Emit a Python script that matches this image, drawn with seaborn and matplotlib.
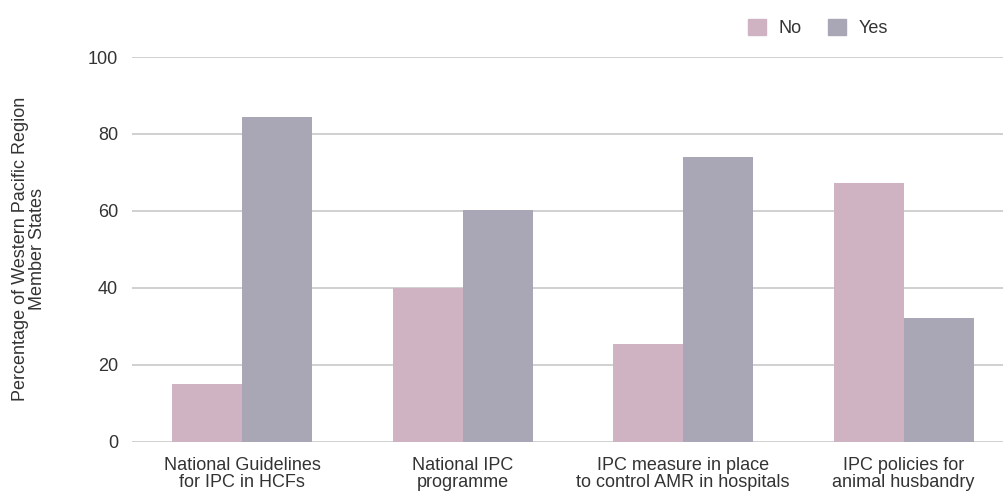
import matplotlib
matplotlib.use("Agg")
import matplotlib.pyplot as plt
import matplotlib.patches as mpatches
import seaborn as sns
import pandas as pd

categories = ["National Guidelines\nfor IPC in HCFs", "National IPC\nprogramme",
              "IPC measure in place\nto control AMR in hospitals", "IPC policies for\nanimal husbandry"]
no_values = [15.0, 40.0, 25.3, 67.3]
yes_values = [84.5, 60.3, 74.1, 32.0]
series = ["No", "Yes"]
y_ticks = [0, 20, 40, 60, 80, 100]

df = pd.DataFrame({
    "category": categories * 2,
    "answer": ["No"] * len(categories) + ["Yes"] * len(categories),
    "value": no_values + yes_values,
})

sns.set_theme(style="white")
plt.rcParams["font.family"] = ["Liberation Sans", "DejaVu Sans"]

colors = {"No": "#CFB3C3", "Yes": "#A9A7B5"}
text_color = "#333333"
fs = 13

fig = plt.figure(figsize=(10.04, 4.99), dpi=100)
ax = fig.add_axes([132 / 1004, 1 - 441.5 / 499, 1 - 132 / 1004, (441.5 - 57) / 499])

sns.barplot(data=df, x="category", y="value", hue="answer", hue_order=series,
            palette=colors, width=0.634, saturation=1, linewidth=0, ax=ax, legend=False)

ax.set_ylim(0, 100)
ax.set_xlim(-0.5, 3.455)
ax.set_yticks(y_ticks)
ax.yaxis.grid(True, color="#C8C8C8", linewidth=1.2)
ax.set_axisbelow(True)
for s in ax.spines.values():
    s.set_visible(False)
ax.tick_params(axis="both", length=0, labelsize=fs, colors=text_color)
ax.tick_params(axis="y", pad=10)
ax.tick_params(axis="x", pad=11)
for lbl in ax.get_xticklabels():
    lbl.set_linespacing(1.05)
ax.set_xlabel("")
ax.set_ylabel("Percentage of Western Pacific Region\nMember States", fontsize=fs,
              color=text_color, labelpad=30, linespacing=1.05)

handles = [mpatches.Patch(color=colors[s], label=s) for s in series]
leg = fig.legend(handles=handles, loc="center", bbox_to_anchor=(818 / 1004, 1 - 28 / 499),
                 ncol=2, frameon=False, handlelength=1.0, handleheight=1.0,
                 handletextpad=0.65, columnspacing=1.5, fontsize=fs)
for t in leg.get_texts():
    t.set_color(text_color)

fig.savefig("out.png", dpi=100)
